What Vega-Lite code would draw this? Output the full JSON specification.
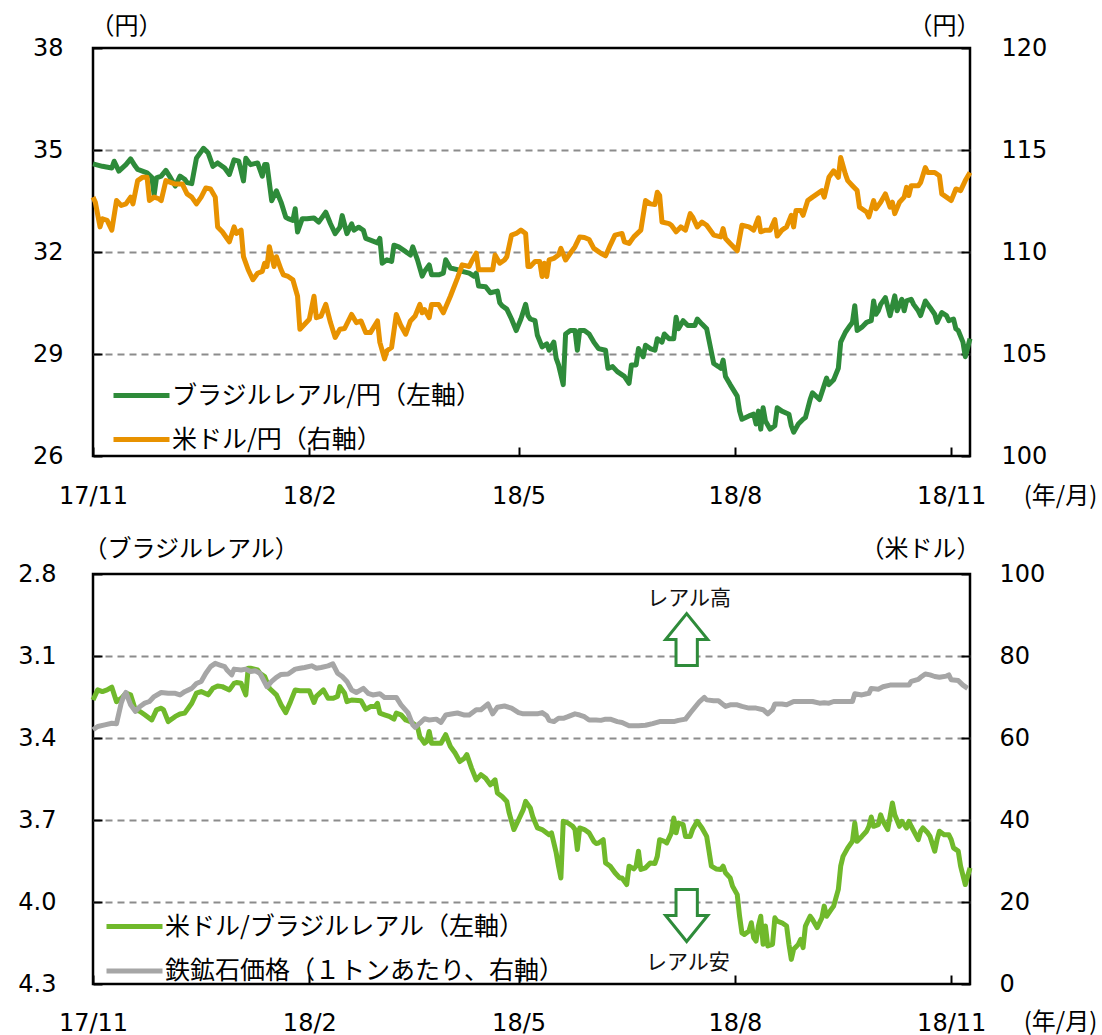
{
  "$schema": "https://vega.github.io/schema/vega-lite/v6.json",
  "background": "white",
  "padding": {"left": 16, "top": 12, "right": 0, "bottom": 0},
  "config": {
    "view": {"stroke": "black", "strokeWidth": 2.5},
    "font": "Noto Sans CJK JP",
    "axis": {
      "labelFont": "DejaVu Sans", "labelFontSize": 24, "labelColor": "black",
      "titleFont": "Noto Sans CJK JP", "titleFontSize": 24, "titleFontWeight": "normal", "titleColor": "black",
      "domain": false, "tickColor": "black", "tickWidth": 2, "tickSize": -9, "grid": false,
      "gridColor": "#8c8c8c", "gridDash": [7, 5], "gridWidth": 1.8
    },
    "legend": {
      "labelFont": "Noto Sans CJK JP", "labelFontSize": 25, "labelColor": "black", "labelLimit": 0,
      "padding": 0, "symbolType": "M-2,0H2", "symbolSize": 784, "symbolStrokeWidth": 5, "labelOffset": 14
    }
  },
  "datasets": {
    "brljpy": [
      {"d":"2017-11-01","v":34.59},{"d":"2017-11-05","v":34.52},{"d":"2017-11-09","v":34.47},{"d":"2017-11-10","v":34.67},{"d":"2017-11-12","v":34.38},{"d":"2017-11-15","v":34.57},{"d":"2017-11-17","v":34.74},{"d":"2017-11-19","v":34.52},{"d":"2017-11-20","v":34.43},{"d":"2017-11-24","v":34.33},{"d":"2017-11-26","v":34.20},{"d":"2017-11-27","v":33.68},{"d":"2017-11-28","v":34.18},{"d":"2017-11-30","v":34.23},
      {"d":"2017-12-02","v":34.40},{"d":"2017-12-04","v":34.18},{"d":"2017-12-06","v":33.94},{"d":"2017-12-08","v":34.23},{"d":"2017-12-10","v":34.14},{"d":"2017-12-11","v":34.04},{"d":"2017-12-13","v":34.01},{"d":"2017-12-15","v":34.76},{"d":"2017-12-18","v":35.05},{"d":"2017-12-20","v":34.91},{"d":"2017-12-22","v":34.52},{"d":"2017-12-24","v":34.62},{"d":"2017-12-27","v":34.47},{"d":"2017-12-29","v":34.28},{"d":"2017-12-31","v":34.71},
      {"d":"2018-01-02","v":34.67},{"d":"2018-01-04","v":34.09},{"d":"2018-01-05","v":34.76},{"d":"2018-01-07","v":34.57},{"d":"2018-01-10","v":34.62},{"d":"2018-01-12","v":34.23},{"d":"2018-01-13","v":34.57},{"d":"2018-01-14","v":34.57},{"d":"2018-01-16","v":33.51},{"d":"2018-01-18","v":33.80},{"d":"2018-01-20","v":33.46},{"d":"2018-01-22","v":33.02},{"d":"2018-01-23","v":32.98},{"d":"2018-01-25","v":32.93},{"d":"2018-01-26","v":33.27},{"d":"2018-01-27","v":32.59},{"d":"2018-01-29","v":32.98},{"d":"2018-01-31","v":32.98},
      {"d":"2018-02-03","v":33.00},{"d":"2018-02-05","v":32.88},{"d":"2018-02-08","v":33.17},{"d":"2018-02-10","v":32.83},{"d":"2018-02-12","v":32.54},{"d":"2018-02-14","v":32.73},{"d":"2018-02-15","v":33.07},{"d":"2018-02-17","v":32.54},{"d":"2018-02-19","v":32.83},{"d":"2018-02-20","v":32.64},{"d":"2018-02-22","v":32.73},{"d":"2018-02-24","v":32.64},{"d":"2018-02-25","v":32.40},{"d":"2018-02-27","v":32.35},
      {"d":"2018-03-02","v":32.27},{"d":"2018-03-03","v":32.40},{"d":"2018-03-04","v":31.67},{"d":"2018-03-05","v":31.72},{"d":"2018-03-06","v":31.77},{"d":"2018-03-08","v":31.72},{"d":"2018-03-09","v":32.20},{"d":"2018-03-11","v":32.15},{"d":"2018-03-14","v":32.01},{"d":"2018-03-16","v":31.91},{"d":"2018-03-17","v":32.15},{"d":"2018-03-19","v":31.77},{"d":"2018-03-21","v":31.29},{"d":"2018-03-22","v":31.43},{"d":"2018-03-24","v":31.62},{"d":"2018-03-25","v":31.33},{"d":"2018-03-28","v":31.33},{"d":"2018-03-30","v":31.38},{"d":"2018-03-31","v":31.77},
      {"d":"2018-04-02","v":31.53},{"d":"2018-04-05","v":31.48},{"d":"2018-04-07","v":31.43},{"d":"2018-04-10","v":31.38},{"d":"2018-04-12","v":31.29},{"d":"2018-04-13","v":31.38},{"d":"2018-04-14","v":31.00},{"d":"2018-04-17","v":30.98},{"d":"2018-04-19","v":30.80},{"d":"2018-04-22","v":30.85},{"d":"2018-04-23","v":30.51},{"d":"2018-04-24","v":30.42},{"d":"2018-04-26","v":30.32},{"d":"2018-04-28","v":30.03},{"d":"2018-04-30","v":29.69},
      {"d":"2018-05-02","v":30.03},{"d":"2018-05-04","v":30.46},{"d":"2018-05-05","v":30.13},{"d":"2018-05-06","v":30.03},{"d":"2018-05-08","v":29.98},{"d":"2018-05-09","v":29.55},{"d":"2018-05-11","v":29.21},{"d":"2018-05-13","v":29.30},{"d":"2018-05-14","v":29.11},{"d":"2018-05-16","v":29.35},{"d":"2018-05-17","v":28.87},{"d":"2018-05-18","v":28.68},{"d":"2018-05-20","v":28.10},{"d":"2018-05-21","v":29.59},{"d":"2018-05-23","v":29.69},{"d":"2018-05-25","v":29.69},{"d":"2018-05-26","v":29.11},{"d":"2018-05-27","v":29.69},{"d":"2018-05-29","v":29.69},{"d":"2018-05-31","v":29.59},
      {"d":"2018-06-02","v":29.35},{"d":"2018-06-04","v":29.16},{"d":"2018-06-07","v":29.11},{"d":"2018-06-08","v":28.58},{"d":"2018-06-10","v":28.63},{"d":"2018-06-12","v":28.48},{"d":"2018-06-15","v":28.34},{"d":"2018-06-17","v":28.14},{"d":"2018-06-18","v":28.68},{"d":"2018-06-20","v":28.68},{"d":"2018-06-21","v":29.16},{"d":"2018-06-23","v":28.92},{"d":"2018-06-24","v":29.26},{"d":"2018-06-26","v":29.16},{"d":"2018-06-28","v":29.11},{"d":"2018-06-29","v":29.45},
      {"d":"2018-07-01","v":29.35},{"d":"2018-07-02","v":29.59},{"d":"2018-07-04","v":29.45},{"d":"2018-07-06","v":29.45},{"d":"2018-07-07","v":30.08},{"d":"2018-07-08","v":29.74},{"d":"2018-07-10","v":29.98},{"d":"2018-07-12","v":29.84},{"d":"2018-07-15","v":29.84},{"d":"2018-07-16","v":30.03},{"d":"2018-07-18","v":29.88},{"d":"2018-07-20","v":29.74},{"d":"2018-07-23","v":28.72},{"d":"2018-07-25","v":28.63},{"d":"2018-07-26","v":28.58},{"d":"2018-07-27","v":28.82},{"d":"2018-07-28","v":28.34},{"d":"2018-07-30","v":28.10},
      {"d":"2018-08-02","v":27.76},{"d":"2018-08-03","v":27.32},{"d":"2018-08-04","v":27.08},{"d":"2018-08-07","v":27.18},{"d":"2018-08-09","v":27.23},{"d":"2018-08-10","v":26.94},{"d":"2018-08-11","v":27.32},{"d":"2018-08-12","v":26.79},{"d":"2018-08-13","v":27.42},{"d":"2018-08-14","v":27.03},{"d":"2018-08-16","v":26.79},{"d":"2018-08-18","v":26.89},{"d":"2018-08-19","v":27.42},{"d":"2018-08-21","v":27.32},{"d":"2018-08-24","v":27.23},{"d":"2018-08-25","v":26.89},{"d":"2018-08-26","v":26.70},{"d":"2018-08-28","v":26.94},{"d":"2018-08-30","v":27.08},{"d":"2018-08-31","v":27.13},
      {"d":"2018-09-02","v":27.66},{"d":"2018-09-03","v":27.86},{"d":"2018-09-06","v":27.66},{"d":"2018-09-09","v":28.29},{"d":"2018-09-10","v":28.10},{"d":"2018-09-12","v":28.24},{"d":"2018-09-14","v":28.58},{"d":"2018-09-15","v":29.35},{"d":"2018-09-17","v":29.64},{"d":"2018-09-19","v":29.84},{"d":"2018-09-20","v":29.93},{"d":"2018-09-21","v":30.42},{"d":"2018-09-22","v":29.69},{"d":"2018-09-24","v":29.79},{"d":"2018-09-26","v":29.93},{"d":"2018-09-28","v":29.98},{"d":"2018-09-29","v":30.56},{"d":"2018-09-30","v":30.17},
      {"d":"2018-10-01","v":30.27},{"d":"2018-10-02","v":30.46},{"d":"2018-10-04","v":30.66},{"d":"2018-10-06","v":30.13},{"d":"2018-10-08","v":30.71},{"d":"2018-10-09","v":30.27},{"d":"2018-10-11","v":30.61},{"d":"2018-10-12","v":30.27},{"d":"2018-10-13","v":30.56},{"d":"2018-10-15","v":30.61},{"d":"2018-10-16","v":30.46},{"d":"2018-10-18","v":30.27},{"d":"2018-10-19","v":30.13},{"d":"2018-10-21","v":30.56},{"d":"2018-10-23","v":30.37},{"d":"2018-10-25","v":30.17},{"d":"2018-10-26","v":29.93},{"d":"2018-10-28","v":30.22},{"d":"2018-10-30","v":30.13},{"d":"2018-10-31","v":29.98},
      {"d":"2018-11-02","v":30.03},{"d":"2018-11-03","v":29.74},{"d":"2018-11-04","v":29.69},{"d":"2018-11-06","v":29.35},{"d":"2018-11-07","v":28.92},{"d":"2018-11-09","v":29.45}
    ],
    "usdjpy": [
      {"d":"2017-11-01","v":112.69},{"d":"2017-11-02","v":112.44},{"d":"2017-11-04","v":111.23},{"d":"2017-11-05","v":111.63},{"d":"2017-11-07","v":111.55},{"d":"2017-11-09","v":111.07},{"d":"2017-11-11","v":112.52},{"d":"2017-11-13","v":112.28},{"d":"2017-11-15","v":112.36},{"d":"2017-11-17","v":112.69},{"d":"2017-11-18","v":112.36},{"d":"2017-11-20","v":113.50},{"d":"2017-11-22","v":113.66},{"d":"2017-11-24","v":113.66},{"d":"2017-11-25","v":112.52},{"d":"2017-11-27","v":112.69},{"d":"2017-11-29","v":112.61},{"d":"2017-11-30","v":112.52},
      {"d":"2017-12-02","v":113.50},{"d":"2017-12-04","v":113.41},{"d":"2017-12-06","v":113.33},{"d":"2017-12-09","v":113.33},{"d":"2017-12-11","v":112.85},{"d":"2017-12-13","v":112.69},{"d":"2017-12-15","v":112.36},{"d":"2017-12-17","v":112.69},{"d":"2017-12-19","v":113.14},{"d":"2017-12-21","v":113.09},{"d":"2017-12-23","v":112.69},{"d":"2017-12-24","v":111.23},{"d":"2017-12-26","v":110.99},{"d":"2017-12-28","v":110.66},{"d":"2017-12-29","v":110.50},{"d":"2017-12-31","v":111.23},
      {"d":"2018-01-01","v":110.91},{"d":"2018-01-03","v":111.07},{"d":"2018-01-04","v":109.77},{"d":"2018-01-06","v":109.13},{"d":"2018-01-08","v":108.64},{"d":"2018-01-10","v":108.96},{"d":"2018-01-12","v":109.05},{"d":"2018-01-13","v":109.45},{"d":"2018-01-14","v":109.29},{"d":"2018-01-15","v":110.26},{"d":"2018-01-17","v":109.29},{"d":"2018-01-18","v":109.77},{"d":"2018-01-20","v":109.13},{"d":"2018-01-21","v":108.88},{"d":"2018-01-23","v":108.80},{"d":"2018-01-25","v":108.64},{"d":"2018-01-27","v":107.83},{"d":"2018-01-28","v":106.21},{"d":"2018-01-30","v":106.46},
      {"d":"2018-02-01","v":106.70},{"d":"2018-02-03","v":107.83},{"d":"2018-02-04","v":106.78},{"d":"2018-02-06","v":106.86},{"d":"2018-02-08","v":107.43},{"d":"2018-02-10","v":106.54},{"d":"2018-02-12","v":105.81},{"d":"2018-02-14","v":106.21},{"d":"2018-02-16","v":106.25},{"d":"2018-02-19","v":106.94},{"d":"2018-02-21","v":106.54},{"d":"2018-02-23","v":106.62},{"d":"2018-02-25","v":106.05},{"d":"2018-02-27","v":106.05},
      {"d":"2018-03-02","v":106.62},{"d":"2018-03-03","v":105.57},{"d":"2018-03-05","v":104.76},{"d":"2018-03-06","v":105.16},{"d":"2018-03-08","v":105.32},{"d":"2018-03-10","v":106.94},{"d":"2018-03-12","v":106.38},{"d":"2018-03-14","v":105.97},{"d":"2018-03-16","v":106.62},{"d":"2018-03-18","v":106.86},{"d":"2018-03-20","v":107.43},{"d":"2018-03-21","v":107.02},{"d":"2018-03-22","v":107.18},{"d":"2018-03-24","v":106.78},{"d":"2018-03-25","v":107.43},{"d":"2018-03-28","v":107.43},{"d":"2018-03-30","v":107.02},
      {"d":"2018-04-02","v":107.83},{"d":"2018-04-05","v":108.72},{"d":"2018-04-07","v":109.37},{"d":"2018-04-10","v":109.29},{"d":"2018-04-11","v":109.53},{"d":"2018-04-13","v":109.94},{"d":"2018-04-14","v":109.13},{"d":"2018-04-17","v":109.13},{"d":"2018-04-20","v":109.13},{"d":"2018-04-21","v":109.85},{"d":"2018-04-23","v":109.45},{"d":"2018-04-25","v":109.61},{"d":"2018-04-26","v":109.77},{"d":"2018-04-28","v":110.83},{"d":"2018-04-30","v":110.91},
      {"d":"2018-05-02","v":111.07},{"d":"2018-05-04","v":110.91},{"d":"2018-05-05","v":109.29},{"d":"2018-05-06","v":109.29},{"d":"2018-05-08","v":109.53},{"d":"2018-05-10","v":109.53},{"d":"2018-05-11","v":108.80},{"d":"2018-05-12","v":109.45},{"d":"2018-05-13","v":108.80},{"d":"2018-05-14","v":109.61},{"d":"2018-05-16","v":109.69},{"d":"2018-05-18","v":109.85},{"d":"2018-05-19","v":110.18},{"d":"2018-05-21","v":109.61},{"d":"2018-05-23","v":109.94},{"d":"2018-05-25","v":110.26},{"d":"2018-05-27","v":110.74},{"d":"2018-05-29","v":110.71},{"d":"2018-05-31","v":110.61},
      {"d":"2018-06-02","v":110.18},{"d":"2018-06-04","v":110.02},{"d":"2018-06-05","v":109.94},{"d":"2018-06-07","v":109.81},{"d":"2018-06-09","v":110.34},{"d":"2018-06-11","v":110.83},{"d":"2018-06-14","v":110.91},{"d":"2018-06-15","v":110.50},{"d":"2018-06-17","v":110.42},{"d":"2018-06-19","v":110.74},{"d":"2018-06-22","v":111.07},{"d":"2018-06-24","v":112.52},{"d":"2018-06-26","v":112.36},{"d":"2018-06-28","v":112.33},{"d":"2018-06-29","v":112.93},{"d":"2018-06-30","v":112.77},
      {"d":"2018-07-01","v":111.47},{"d":"2018-07-04","v":111.39},{"d":"2018-07-05","v":111.31},{"d":"2018-07-07","v":110.99},{"d":"2018-07-09","v":111.23},{"d":"2018-07-11","v":111.07},{"d":"2018-07-13","v":111.88},{"d":"2018-07-14","v":111.72},{"d":"2018-07-16","v":111.23},{"d":"2018-07-18","v":111.47},{"d":"2018-07-20","v":111.31},{"d":"2018-07-22","v":110.99},{"d":"2018-07-23","v":110.83},{"d":"2018-07-26","v":110.74},{"d":"2018-07-27","v":111.15},{"d":"2018-07-28","v":110.66},{"d":"2018-07-30","v":110.42},
      {"d":"2018-08-02","v":110.06},{"d":"2018-08-04","v":111.31},{"d":"2018-08-07","v":111.23},{"d":"2018-08-09","v":111.07},{"d":"2018-08-11","v":111.68},{"d":"2018-08-12","v":110.99},{"d":"2018-08-14","v":111.07},{"d":"2018-08-16","v":111.07},{"d":"2018-08-18","v":111.59},{"d":"2018-08-19","v":110.78},{"d":"2018-08-21","v":111.07},{"d":"2018-08-23","v":111.23},{"d":"2018-08-25","v":111.80},{"d":"2018-08-26","v":111.23},{"d":"2018-08-27","v":112.04},{"d":"2018-08-29","v":112.04},{"d":"2018-08-30","v":111.80},
      {"d":"2018-09-01","v":112.52},{"d":"2018-09-03","v":112.69},{"d":"2018-09-05","v":112.85},{"d":"2018-09-07","v":113.01},{"d":"2018-09-08","v":112.69},{"d":"2018-09-10","v":113.66},{"d":"2018-09-12","v":113.98},{"d":"2018-09-14","v":113.66},{"d":"2018-09-15","v":114.63},{"d":"2018-09-17","v":113.82},{"d":"2018-09-18","v":113.50},{"d":"2018-09-20","v":113.25},{"d":"2018-09-22","v":113.01},{"d":"2018-09-23","v":112.20},{"d":"2018-09-24","v":112.12},{"d":"2018-09-26","v":111.96},{"d":"2018-09-27","v":111.72},{"d":"2018-09-29","v":112.52},{"d":"2018-09-30","v":112.12},
      {"d":"2018-10-02","v":112.44},{"d":"2018-10-04","v":112.85},{"d":"2018-10-06","v":112.20},{"d":"2018-10-07","v":112.44},{"d":"2018-10-08","v":111.88},{"d":"2018-10-10","v":112.44},{"d":"2018-10-12","v":112.69},{"d":"2018-10-13","v":113.17},{"d":"2018-10-14","v":112.77},{"d":"2018-10-15","v":113.25},{"d":"2018-10-18","v":113.25},{"d":"2018-10-19","v":113.41},{"d":"2018-10-21","v":114.14},{"d":"2018-10-22","v":113.90},{"d":"2018-10-25","v":113.90},{"d":"2018-10-27","v":113.74},{"d":"2018-10-28","v":112.85},{"d":"2018-10-30","v":112.69},
      {"d":"2018-11-01","v":112.52},{"d":"2018-11-03","v":113.09},{"d":"2018-11-05","v":113.01},{"d":"2018-11-07","v":113.50},{"d":"2018-11-09","v":113.90}
    ],
    "usdbrl": [
      {"d":"2017-11-01","v":3.261},{"d":"2017-11-03","v":3.224},{"d":"2017-11-05","v":3.230},{"d":"2017-11-07","v":3.224},{"d":"2017-11-09","v":3.214},{"d":"2017-11-11","v":3.267},{"d":"2017-11-13","v":3.255},{"d":"2017-11-15","v":3.236},{"d":"2017-11-17","v":3.242},{"d":"2017-11-19","v":3.297},{"d":"2017-11-21","v":3.303},{"d":"2017-11-23","v":3.315},{"d":"2017-11-26","v":3.334},{"d":"2017-11-28","v":3.297},{"d":"2017-11-30","v":3.291},
      {"d":"2017-12-01","v":3.297},{"d":"2017-12-03","v":3.340},{"d":"2017-12-06","v":3.321},{"d":"2017-12-08","v":3.312},{"d":"2017-12-10","v":3.309},{"d":"2017-12-13","v":3.273},{"d":"2017-12-15","v":3.236},{"d":"2017-12-17","v":3.230},{"d":"2017-12-20","v":3.242},{"d":"2017-12-22","v":3.218},{"d":"2017-12-24","v":3.210},{"d":"2017-12-26","v":3.212},{"d":"2017-12-29","v":3.224},{"d":"2017-12-31","v":3.200},
      {"d":"2018-01-01","v":3.197},{"d":"2018-01-03","v":3.200},{"d":"2018-01-05","v":3.242},{"d":"2018-01-06","v":3.145},{"d":"2018-01-07","v":3.145},{"d":"2018-01-10","v":3.151},{"d":"2018-01-11","v":3.163},{"d":"2018-01-13","v":3.175},{"d":"2018-01-15","v":3.218},{"d":"2018-01-18","v":3.242},{"d":"2018-01-20","v":3.279},{"d":"2018-01-22","v":3.307},{"d":"2018-01-24","v":3.267},{"d":"2018-01-26","v":3.224},{"d":"2018-01-28","v":3.227},
      {"d":"2018-02-01","v":3.227},{"d":"2018-02-03","v":3.270},{"d":"2018-02-04","v":3.248},{"d":"2018-02-07","v":3.224},{"d":"2018-02-09","v":3.255},{"d":"2018-02-11","v":3.255},{"d":"2018-02-13","v":3.248},{"d":"2018-02-14","v":3.212},{"d":"2018-02-16","v":3.236},{"d":"2018-02-17","v":3.267},{"d":"2018-02-19","v":3.261},{"d":"2018-02-23","v":3.264},{"d":"2018-02-25","v":3.295},{"d":"2018-02-27","v":3.285},
      {"d":"2018-03-01","v":3.285},{"d":"2018-03-02","v":3.273},{"d":"2018-03-03","v":3.309},{"d":"2018-03-05","v":3.315},{"d":"2018-03-07","v":3.321},{"d":"2018-03-09","v":3.331},{"d":"2018-03-10","v":3.309},{"d":"2018-03-12","v":3.315},{"d":"2018-03-14","v":3.334},{"d":"2018-03-16","v":3.340},{"d":"2018-03-19","v":3.358},{"d":"2018-03-20","v":3.395},{"d":"2018-03-22","v":3.419},{"d":"2018-03-23","v":3.413},{"d":"2018-03-24","v":3.376},{"d":"2018-03-25","v":3.419},{"d":"2018-03-27","v":3.419},{"d":"2018-03-29","v":3.419},{"d":"2018-03-31","v":3.388},
      {"d":"2018-04-02","v":3.431},{"d":"2018-04-04","v":3.455},{"d":"2018-04-06","v":3.486},{"d":"2018-04-08","v":3.474},{"d":"2018-04-09","v":3.461},{"d":"2018-04-11","v":3.510},{"d":"2018-04-13","v":3.553},{"d":"2018-04-15","v":3.534},{"d":"2018-04-17","v":3.547},{"d":"2018-04-19","v":3.571},{"d":"2018-04-21","v":3.553},{"d":"2018-04-22","v":3.601},{"d":"2018-04-24","v":3.614},{"d":"2018-04-26","v":3.632},{"d":"2018-04-27","v":3.674},{"d":"2018-04-29","v":3.735},
      {"d":"2018-05-01","v":3.699},{"d":"2018-05-03","v":3.662},{"d":"2018-05-04","v":3.632},{"d":"2018-05-06","v":3.656},{"d":"2018-05-07","v":3.687},{"d":"2018-05-09","v":3.729},{"d":"2018-05-11","v":3.735},{"d":"2018-05-14","v":3.754},{"d":"2018-05-15","v":3.747},{"d":"2018-05-17","v":3.820},{"d":"2018-05-18","v":3.869},{"d":"2018-05-19","v":3.912},{"d":"2018-05-20","v":3.705},{"d":"2018-05-22","v":3.711},{"d":"2018-05-24","v":3.723},{"d":"2018-05-25","v":3.735},{"d":"2018-05-26","v":3.808},{"d":"2018-05-27","v":3.729},{"d":"2018-05-29","v":3.735},{"d":"2018-05-31","v":3.747},
      {"d":"2018-06-02","v":3.778},{"d":"2018-06-03","v":3.786},{"d":"2018-06-04","v":3.784},{"d":"2018-06-06","v":3.772},{"d":"2018-06-07","v":3.857},{"d":"2018-06-09","v":3.869},{"d":"2018-06-11","v":3.893},{"d":"2018-06-13","v":3.912},{"d":"2018-06-14","v":3.912},{"d":"2018-06-16","v":3.936},{"d":"2018-06-17","v":3.869},{"d":"2018-06-19","v":3.879},{"d":"2018-06-20","v":3.869},{"d":"2018-06-21","v":3.814},{"d":"2018-06-22","v":3.881},{"d":"2018-06-24","v":3.875},{"d":"2018-06-26","v":3.857},{"d":"2018-06-28","v":3.859},{"d":"2018-06-29","v":3.833},{"d":"2018-06-30","v":3.772},
      {"d":"2018-07-02","v":3.778},{"d":"2018-07-03","v":3.784},{"d":"2018-07-05","v":3.747},{"d":"2018-07-06","v":3.693},{"d":"2018-07-07","v":3.747},{"d":"2018-07-08","v":3.711},{"d":"2018-07-10","v":3.717},{"d":"2018-07-11","v":3.760},{"d":"2018-07-13","v":3.760},{"d":"2018-07-14","v":3.735},{"d":"2018-07-16","v":3.705},{"d":"2018-07-18","v":3.729},{"d":"2018-07-20","v":3.760},{"d":"2018-07-21","v":3.814},{"d":"2018-07-22","v":3.869},{"d":"2018-07-24","v":3.879},{"d":"2018-07-26","v":3.881},{"d":"2018-07-27","v":3.869},{"d":"2018-07-28","v":3.893},{"d":"2018-07-30","v":3.912},{"d":"2018-07-31","v":3.942},
      {"d":"2018-08-02","v":3.973},{"d":"2018-08-03","v":4.052},{"d":"2018-08-04","v":4.113},{"d":"2018-08-05","v":4.119},{"d":"2018-08-07","v":4.106},{"d":"2018-08-08","v":4.076},{"d":"2018-08-09","v":4.131},{"d":"2018-08-10","v":4.143},{"d":"2018-08-11","v":4.088},{"d":"2018-08-12","v":4.052},{"d":"2018-08-13","v":4.155},{"d":"2018-08-14","v":4.088},{"d":"2018-08-15","v":4.161},{"d":"2018-08-17","v":4.155},{"d":"2018-08-18","v":4.058},{"d":"2018-08-19","v":4.070},{"d":"2018-08-21","v":4.076},{"d":"2018-08-23","v":4.088},{"d":"2018-08-24","v":4.155},{"d":"2018-08-25","v":4.210},{"d":"2018-08-26","v":4.173},{"d":"2018-08-28","v":4.155},{"d":"2018-08-29","v":4.137},{"d":"2018-08-30","v":4.167},{"d":"2018-08-31","v":4.088},
      {"d":"2018-09-02","v":4.052},{"d":"2018-09-03","v":4.064},{"d":"2018-09-05","v":4.094},{"d":"2018-09-07","v":4.058},{"d":"2018-09-08","v":4.015},{"d":"2018-09-09","v":4.052},{"d":"2018-09-11","v":4.027},{"d":"2018-09-12","v":4.015},{"d":"2018-09-14","v":3.954},{"d":"2018-09-15","v":3.869},{"d":"2018-09-16","v":3.833},{"d":"2018-09-18","v":3.802},{"d":"2018-09-20","v":3.778},{"d":"2018-09-21","v":3.711},{"d":"2018-09-22","v":3.778},{"d":"2018-09-24","v":3.760},{"d":"2018-09-26","v":3.741},{"d":"2018-09-27","v":3.723},{"d":"2018-09-28","v":3.689},{"d":"2018-09-29","v":3.723},
      {"d":"2018-10-01","v":3.717},{"d":"2018-10-02","v":3.681},{"d":"2018-10-03","v":3.705},{"d":"2018-10-05","v":3.735},{"d":"2018-10-06","v":3.687},{"d":"2018-10-07","v":3.638},{"d":"2018-10-08","v":3.681},{"d":"2018-10-10","v":3.723},{"d":"2018-10-11","v":3.705},{"d":"2018-10-13","v":3.729},{"d":"2018-10-14","v":3.705},{"d":"2018-10-15","v":3.723},{"d":"2018-10-18","v":3.772},{"d":"2018-10-19","v":3.741},{"d":"2018-10-20","v":3.729},{"d":"2018-10-22","v":3.747},{"d":"2018-10-23","v":3.760},{"d":"2018-10-25","v":3.814},{"d":"2018-10-26","v":3.772},{"d":"2018-10-27","v":3.741},{"d":"2018-10-29","v":3.754},{"d":"2018-10-31","v":3.754},
      {"d":"2018-11-01","v":3.772},{"d":"2018-11-02","v":3.802},{"d":"2018-11-04","v":3.814},{"d":"2018-11-05","v":3.869},{"d":"2018-11-07","v":3.936},{"d":"2018-11-09","v":3.875}
    ],
    "iron": [
      {"d":"2017-11-01","v":62.0},{"d":"2017-11-03","v":62.8},{"d":"2017-11-06","v":63.2},{"d":"2017-11-09","v":63.6},{"d":"2017-11-11","v":63.5},{"d":"2017-11-13","v":68.5},{"d":"2017-11-14","v":70.1},{"d":"2017-11-15","v":71.1},{"d":"2017-11-17","v":68.1},{"d":"2017-11-19","v":66.5},{"d":"2017-11-21","v":67.7},{"d":"2017-11-23","v":68.5},{"d":"2017-11-25","v":68.9},{"d":"2017-11-27","v":70.1},{"d":"2017-11-30","v":71.1},
      {"d":"2017-12-03","v":70.9},{"d":"2017-12-06","v":70.9},{"d":"2017-12-08","v":70.5},{"d":"2017-12-10","v":71.3},{"d":"2017-12-13","v":72.1},{"d":"2017-12-15","v":73.3},{"d":"2017-12-17","v":73.8},{"d":"2017-12-19","v":75.8},{"d":"2017-12-21","v":77.4},{"d":"2017-12-23","v":78.2},{"d":"2017-12-25","v":77.8},{"d":"2017-12-27","v":77.4},{"d":"2017-12-28","v":76.6},{"d":"2017-12-30","v":75.4},{"d":"2017-12-31","v":76.8},
      {"d":"2018-01-03","v":76.6},{"d":"2018-01-05","v":76.8},{"d":"2018-01-07","v":76.2},{"d":"2018-01-09","v":76.4},{"d":"2018-01-11","v":75.8},{"d":"2018-01-14","v":72.5},{"d":"2018-01-16","v":73.8},{"d":"2018-01-18","v":74.8},{"d":"2018-01-20","v":75.5},{"d":"2018-01-23","v":75.6},{"d":"2018-01-26","v":76.8},{"d":"2018-01-28","v":77.0},{"d":"2018-01-30","v":77.2},
      {"d":"2018-02-02","v":77.6},{"d":"2018-02-04","v":77.0},{"d":"2018-02-06","v":77.2},{"d":"2018-02-09","v":77.6},{"d":"2018-02-11","v":78.1},{"d":"2018-02-13","v":75.8},{"d":"2018-02-15","v":75.0},{"d":"2018-02-17","v":73.8},{"d":"2018-02-19","v":71.7},{"d":"2018-02-21","v":71.1},{"d":"2018-02-24","v":72.1},{"d":"2018-02-26","v":70.9},{"d":"2018-02-28","v":70.5},
      {"d":"2018-03-03","v":70.8},{"d":"2018-03-05","v":69.9},{"d":"2018-03-07","v":69.9},{"d":"2018-03-10","v":69.9},{"d":"2018-03-12","v":68.1},{"d":"2018-03-15","v":66.1},{"d":"2018-03-17","v":63.2},{"d":"2018-03-18","v":62.6},{"d":"2018-03-20","v":63.6},{"d":"2018-03-22","v":64.7},{"d":"2018-03-24","v":64.4},{"d":"2018-03-27","v":64.6},{"d":"2018-03-29","v":63.8},{"d":"2018-03-31","v":65.6},
      {"d":"2018-04-03","v":65.9},{"d":"2018-04-05","v":66.1},{"d":"2018-04-08","v":65.6},{"d":"2018-04-10","v":65.6},{"d":"2018-04-13","v":66.9},{"d":"2018-04-15","v":66.9},{"d":"2018-04-18","v":68.3},{"d":"2018-04-20","v":65.9},{"d":"2018-04-22","v":67.5},{"d":"2018-04-25","v":67.8},{"d":"2018-04-28","v":67.3},
      {"d":"2018-05-01","v":66.2},{"d":"2018-05-03","v":65.9},{"d":"2018-05-06","v":65.9},{"d":"2018-05-09","v":65.9},{"d":"2018-05-11","v":66.2},{"d":"2018-05-13","v":65.4},{"d":"2018-05-14","v":64.3},{"d":"2018-05-16","v":64.0},{"d":"2018-05-18","v":64.8},{"d":"2018-05-20","v":64.8},{"d":"2018-05-22","v":65.2},{"d":"2018-05-25","v":65.9},{"d":"2018-05-27","v":65.6},{"d":"2018-05-29","v":65.2},{"d":"2018-05-31","v":64.4},
      {"d":"2018-06-03","v":64.4},{"d":"2018-06-05","v":64.3},{"d":"2018-06-07","v":64.6},{"d":"2018-06-09","v":64.6},{"d":"2018-06-12","v":64.0},{"d":"2018-06-14","v":63.8},{"d":"2018-06-17","v":63.0},{"d":"2018-06-19","v":63.0},{"d":"2018-06-21","v":63.0},{"d":"2018-06-24","v":63.1},{"d":"2018-06-27","v":63.5},{"d":"2018-06-30","v":64.0},
      {"d":"2018-07-03","v":64.0},{"d":"2018-07-06","v":64.0},{"d":"2018-07-08","v":64.3},{"d":"2018-07-11","v":64.6},{"d":"2018-07-13","v":66.1},{"d":"2018-07-15","v":67.5},{"d":"2018-07-17","v":68.9},{"d":"2018-07-19","v":69.9},{"d":"2018-07-20","v":69.3},{"d":"2018-07-23","v":69.1},{"d":"2018-07-25","v":69.1},{"d":"2018-07-28","v":67.7},{"d":"2018-07-30","v":68.1},
      {"d":"2018-08-02","v":68.1},{"d":"2018-08-04","v":67.7},{"d":"2018-08-07","v":67.3},{"d":"2018-08-10","v":67.3},{"d":"2018-08-13","v":66.9},{"d":"2018-08-15","v":65.9},{"d":"2018-08-17","v":66.9},{"d":"2018-08-18","v":68.3},{"d":"2018-08-21","v":68.3},{"d":"2018-08-23","v":68.1},{"d":"2018-08-26","v":68.9},{"d":"2018-08-28","v":68.9},{"d":"2018-08-31","v":68.9},
      {"d":"2018-09-03","v":68.9},{"d":"2018-09-06","v":68.5},{"d":"2018-09-08","v":68.6},{"d":"2018-09-10","v":68.5},{"d":"2018-09-12","v":68.9},{"d":"2018-09-15","v":68.9},{"d":"2018-09-18","v":68.9},{"d":"2018-09-20","v":68.9},{"d":"2018-09-21","v":70.8},{"d":"2018-09-24","v":70.5},{"d":"2018-09-26","v":70.8},{"d":"2018-09-27","v":70.9},{"d":"2018-09-28","v":72.1},
      {"d":"2018-10-01","v":71.9},{"d":"2018-10-03","v":72.5},{"d":"2018-10-06","v":72.9},{"d":"2018-10-08","v":72.9},{"d":"2018-10-11","v":72.9},{"d":"2018-10-14","v":72.9},{"d":"2018-10-15","v":73.8},{"d":"2018-10-18","v":74.3},{"d":"2018-10-19","v":74.8},{"d":"2018-10-21","v":75.6},{"d":"2018-10-23","v":75.4},{"d":"2018-10-25","v":75.0},{"d":"2018-10-27","v":74.8},{"d":"2018-10-30","v":75.1},{"d":"2018-10-31","v":75.4},
      {"d":"2018-11-01","v":74.2},{"d":"2018-11-04","v":74.0},{"d":"2018-11-06","v":72.9},{"d":"2018-11-08","v":72.1}
    ],
    "arrows": [
      {"d":"2018-07-11T12:00:00Z","v":84,"k":"up"},
      {"d":"2018-07-11T12:00:00Z","v":16.7,"k":"down"}
    ],
    "notes": [
      {"d":"2018-07-12T12:00:00Z","v":94.0,"t":"レアル高"},
      {"d":"2018-07-12T00:00:00Z","v":5.2,"t":"レアル安"}
    ]
  },
  "vconcat": [
    {
      "width": 877,
      "height": 408,
      "layer": [
        {
          "data": {"name": "brljpy"},
          "mark": {"type": "line", "strokeWidth": 5, "strokeJoin": "round"},
          "encoding": {
            "x": {
              "field": "d", "type": "temporal",
              "scale": {"type": "utc", "domain": ["2017-11-01", "2018-11-09"]},
              "axis": {
                "values": [
                  {"year": 2017, "month": 11, "date": 1, "utc": true},
                  {"year": 2018, "month": 2, "date": 1, "utc": true},
                  {"year": 2018, "month": 5, "date": 1, "utc": true},
                  {"year": 2018, "month": 8, "date": 1, "utc": true},
                  {"year": 2018, "month": 11, "date": 1, "utc": true}
                ],
                "labelExpr": "utcFormat(datum.value, '%y/%-m')", "labelFlush": false, "labelPadding": 37,
                "title": "(年/月)", "titleX": 967, "titleY": 40, "titleAlign": "center", "titleBaseline": "middle"
              }
            },
            "y": {
              "field": "v", "type": "quantitative",
              "scale": {"domain": [26, 38], "nice": false, "zero": false},
              "axis": {
                "orient": "left", "values": [26, 29, 32, 35, 38], "format": "d", "labelPadding": 39,
                "grid": true,
                "gridOpacity": {"condition": {"test": "datum.value <= 26 || datum.value >= 38", "value": 0}, "value": 1},
                "title": "（円）", "titleAngle": 0, "titleAlign": "left", "titleBaseline": "middle", "titleX": -3, "titleY": -22
              }
            },
            "color": {
              "datum": "ブラジルレアル/円（左軸）",
              "scale": {"domain": ["ブラジルレアル/円（左軸）", "米ドル/円（右軸）"], "range": ["#2e8b3a", "#e89200"]},
              "legend": {"orient": "none", "legendX": 32, "legendY": 331, "title": null, "rowPadding": 14}
            }
          }
        },
        {
          "data": {"name": "usdjpy"},
          "mark": {"type": "line", "strokeWidth": 5, "strokeJoin": "round"},
          "encoding": {
            "x": {"field": "d", "type": "temporal"},
            "y": {
              "field": "v", "type": "quantitative",
              "scale": {"domain": [100, 120], "nice": false, "zero": false},
              "axis": {
                "orient": "right", "values": [100, 105, 110, 115, 120], "format": "d", "labelPadding": 40,
                "title": "（円）", "titleAngle": 0, "titleAlign": "right", "titleBaseline": "middle", "titleX": 10, "titleY": -22
              }
            },
            "color": {"datum": "米ドル/円（右軸）"}
          }
        }
      ],
      "resolve": {"scale": {"y": "independent"}}
    },
    {
      "width": 877,
      "height": 410,
      "layer": [
        {
          "data": {"name": "usdbrl"},
          "mark": {"type": "line", "strokeWidth": 5, "strokeJoin": "round"},
          "encoding": {
            "x": {
              "field": "d", "type": "temporal",
              "scale": {"type": "utc", "domain": ["2017-11-01", "2018-11-09"]},
              "axis": {
                "values": [
                  {"year": 2017, "month": 11, "date": 1, "utc": true},
                  {"year": 2018, "month": 2, "date": 1, "utc": true},
                  {"year": 2018, "month": 5, "date": 1, "utc": true},
                  {"year": 2018, "month": 8, "date": 1, "utc": true},
                  {"year": 2018, "month": 11, "date": 1, "utc": true}
                ],
                "labelExpr": "utcFormat(datum.value, '%y/%-m')", "labelFlush": false, "labelPadding": 36,
                "title": "(年/月)", "titleX": 967, "titleY": 38, "titleAlign": "center", "titleBaseline": "middle"
              }
            },
            "y": {
              "field": "v", "type": "quantitative",
              "scale": {"domain": [2.8, 4.3], "reverse": true, "nice": false, "zero": false},
              "axis": {
                "orient": "left", "values": [2.8, 3.1, 3.4, 3.7, 4.0, 4.3], "format": ".1f", "labelPadding": 46,
                "grid": true,
                "gridOpacity": {"condition": {"test": "datum.value <= 2.81 || datum.value >= 4.29", "value": 0}, "value": 1},
                "title": "（ブラジルレアル）", "titleAngle": 0, "titleAlign": "left", "titleBaseline": "middle", "titleX": -10, "titleY": -25
              }
            },
            "color": {
              "datum": "米ドル/ブラジルレアル（左軸）",
              "scale": {"domain": ["米ドル/ブラジルレアル（左軸）", "鉄鉱石価格（１トンあたり、右軸）"], "range": ["#70b92b", "#a6a6a6"]},
              "legend": {"orient": "none", "legendX": 25, "legendY": 336, "title": null, "rowPadding": 14.6}
            }
          }
        },
        {
          "layer": [
            {
              "data": {"name": "iron"},
              "mark": {"type": "line", "strokeWidth": 5, "strokeJoin": "round"},
              "encoding": {
                "x": {"field": "d", "type": "temporal"},
                "y": {
                  "field": "v", "type": "quantitative",
                  "scale": {"domain": [0, 100], "nice": false},
                  "axis": {
                    "orient": "right", "values": [0, 20, 40, 60, 80, 100], "format": "d", "labelPadding": 38,
                    "title": "（米ドル）", "titleAngle": 0, "titleAlign": "right", "titleBaseline": "middle", "titleX": 10, "titleY": -25
                  }
                },
                "color": {"datum": "鉄鉱石価格（１トンあたり、右軸）"}
              }
            },
            {
              "data": {"name": "arrows"},
              "transform": [{"filter": "datum.k === 'up'"}],
              "mark": {"type": "point", "shape": "M0,-1L0.81,0L0.41,0L0.41,1L-0.41,1L-0.41,0L-0.81,0Z", "size": 2704, "filled": true, "fill": "white", "stroke": "#2e8b3a", "strokeWidth": 3, "opacity": 1},
              "encoding": {
                "x": {"field": "d", "type": "temporal"},
                "y": {"field": "v", "type": "quantitative"}
              }
            },
            {
              "data": {"name": "arrows"},
              "transform": [{"filter": "datum.k === 'down'"}],
              "mark": {"type": "point", "shape": "M0,1L0.81,0L0.41,0L0.41,-1L-0.41,-1L-0.41,0L-0.81,0Z", "size": 2704, "filled": true, "fill": "white", "stroke": "#2e8b3a", "strokeWidth": 3, "opacity": 1},
              "encoding": {
                "x": {"field": "d", "type": "temporal"},
                "y": {"field": "v", "type": "quantitative"}
              }
            },
            {
              "data": {"name": "notes"},
              "mark": {"type": "text", "font": "Noto Sans CJK JP", "fontSize": 21, "color": "#111", "align": "center", "baseline": "middle"},
              "encoding": {
                "x": {"field": "d", "type": "temporal"},
                "y": {"field": "v", "type": "quantitative"},
                "text": {"field": "t"}
              }
            }
          ]
        }
      ],
      "resolve": {"scale": {"y": "independent"}}
    }
  ],
  "spacing": 25,
  "resolve": {"scale": {"color": "independent", "x": "independent"}, "legend": {"color": "independent"}}
}
